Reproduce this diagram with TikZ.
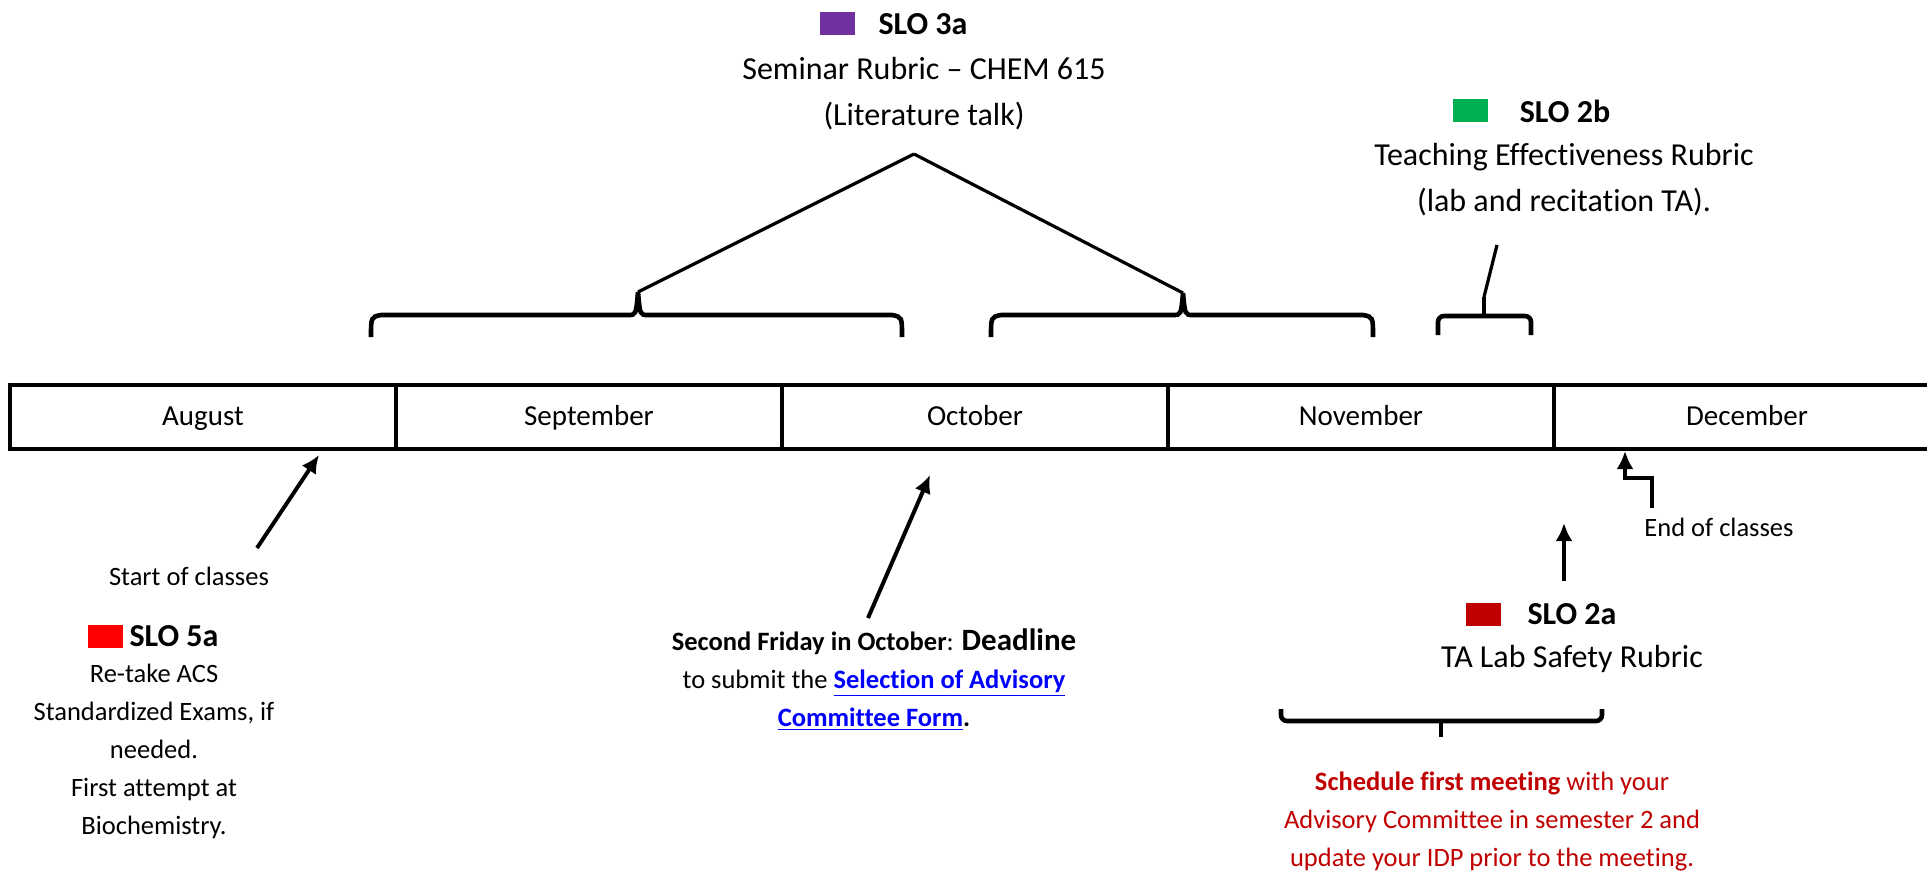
\documentclass[tikz,border=0pt]{standalone}
\usepackage{fontspec}
\setmainfont{Carlito}[Ligatures=NoCommon]
\usetikzlibrary{arrows.meta,positioning}
\definecolor{slopurple}{HTML}{7030A0}
\definecolor{slogreen}{HTML}{00B050}
\definecolor{slored}{HTML}{FF0000}
\definecolor{darkred}{HTML}{C00000}
\definecolor{linkblue}{HTML}{0000FF}

\begin{document}
\begin{tikzpicture}[x=0.5pt,y=-0.5pt,
    line/.style={draw, -{Latex[length=9pt,width=8.5pt]}, line width=2pt},
    brace/.style={draw, line width=2.3pt},
    link/.style={draw, line width=1.6pt},
    month/.style={draw, line width=2pt, minimum width=193pt, minimum height=32pt, inner sep=0pt, outer sep=0pt, text height=0.8em, text depth=0em, font=\fontsize{14.5}{17}\selectfont},
    notetext/.style={inner sep=0pt, align=center, font=\fontsize{13.25}{19}\selectfont},
    bigtext/.style={inner sep=0pt, align=center, font=\fontsize{16}{23.25}\selectfont},
    slo/.style={inner sep=0pt, font=\fontsize{16}{19}\selectfont\bfseries},
    sq/.style={inner sep=0pt, minimum width=17.5pt, minimum height=11.5pt},
    ]
    \useasboundingbox (0,0) rectangle (1927,872);
    \clip (0,0) rectangle (1927,872);

    % Place nodes
    \node [month] (aug) at (203,417) {August};
    \node [month, right=0pt of aug] (sep) {September};
    \node [month, right=0pt of sep] (oct) {October};
    \node [month, right=0pt of oct] (nov) {November};
    \node [month, right=0pt of nov] (dec) {December};

    \node [slo] (slo3a) at (923,24) {SLO 3a};
    \node [sq, fill=slopurple, left=11.5pt of slo3a] (sq3a) {};
    \node [bigtext] (txt3a) at (924,93.5) {Seminar Rubric -- CHEM 615\\(Literature talk)};

    \node [slo] (slo2b) at (1565,111) {SLO 2b};
    \node [sq, fill=slogreen, left=15.5pt of slo2b] (sq2b) {};
    \node [bigtext] (txt2b) at (1564,179.5) {Teaching Effectiveness Rubric\\(lab and recitation TA).};

    \node [notetext] (start) at (189,576) {Start of classes};
    \node [slo] (slo5a) at (174,636) {SLO 5a};
    \node [sq, fill=slored, left=3pt of slo5a] (sq5a) {};
    \node [notetext] (txt5a) at (154,751.5) {Re-take ACS\\Standardized Exams, if\\needed.\\First attempt at\\Biochemistry.};

    \node [notetext] (deadline) at (874,680) {\textbf{Second Friday in October}: {\fontsize{15.5}{19}\selectfont\textbf{Deadline}}\\to submit the \textcolor{linkblue}{\textbf{\underline{Selection of Advisory}}}\\\textcolor{linkblue}{\textbf{\underline{Committee Form}}}\textbf{.}};

    \node [notetext] (endcl) at (1719,527) {End of classes};
    \node [slo] (slo2a) at (1572,614) {SLO 2a};
    \node [sq, fill=darkred, left=13pt of slo2a] (sq2a) {};
    \node [bigtext] (txt2a) at (1572,659) {TA Lab Safety Rubric};
    \node [notetext, text=darkred] (meeting) at (1492,821) {\textbf{Schedule first meeting} with your\\Advisory Committee in semester 2 and\\update your IDP prior to the meeting.};

    \coordinate (apex3a) at (914,154);
    \coordinate (cuspsep) at (638,292);
    \coordinate (cuspnov) at (1183,293);
    \coordinate (stem2b) at (1484,297);
    \coordinate (top2b) at (1497,245);
    \coordinate (starttail) at (257,548);
    \coordinate (starttip) at (319,455);
    \coordinate (dltail) at (868,618);
    \coordinate (dltip) at (930,475);
    \coordinate (tail2a) at (1564,581);
    \coordinate (tip2a) at (1564,523);
    \coordinate (endtail) at (1652,508);
    \coordinate (endtip) at (1625,451);

    % Braces
    \path [brace] (371,337) .. controls (371,317) .. (381,315) -- (628,315) .. controls (636,315) .. (cuspsep) .. controls (640,315) .. (648,315) -- (892,315) .. controls (902,317) .. (902,337);
    \path [brace] (991,337) .. controls (991,317) .. (1001,315) -- (1173,315) .. controls (1181,315) .. (cuspnov) .. controls (1185,315) .. (1193,315) -- (1363,315) .. controls (1373,317) .. (1373,337);
    \path [brace, rounded corners=3pt] (1438,335) |- (1531,316) -- (1531,335);
    \path [brace] (1484,316) -- (stem2b);
    \path [brace, rounded corners=3pt] (1281,709) |- (1602,721) -- (1602,709);
    \path [brace] (1441,721) -- (1441,737);

    % Draw edges
    \path [link] (apex3a) -- (cuspsep);
    \path [link] (apex3a) -- (cuspnov);
    \path [link] (stem2b) -- (top2b);
    \path [line] (starttail) -- (starttip);
    \path [line] (dltail) -- (dltip);
    \path [line] (tail2a) -- (tip2a);
    \path [line] (endtail) |- (1625,478) -- (endtip);
\end{tikzpicture}
\end{document}
